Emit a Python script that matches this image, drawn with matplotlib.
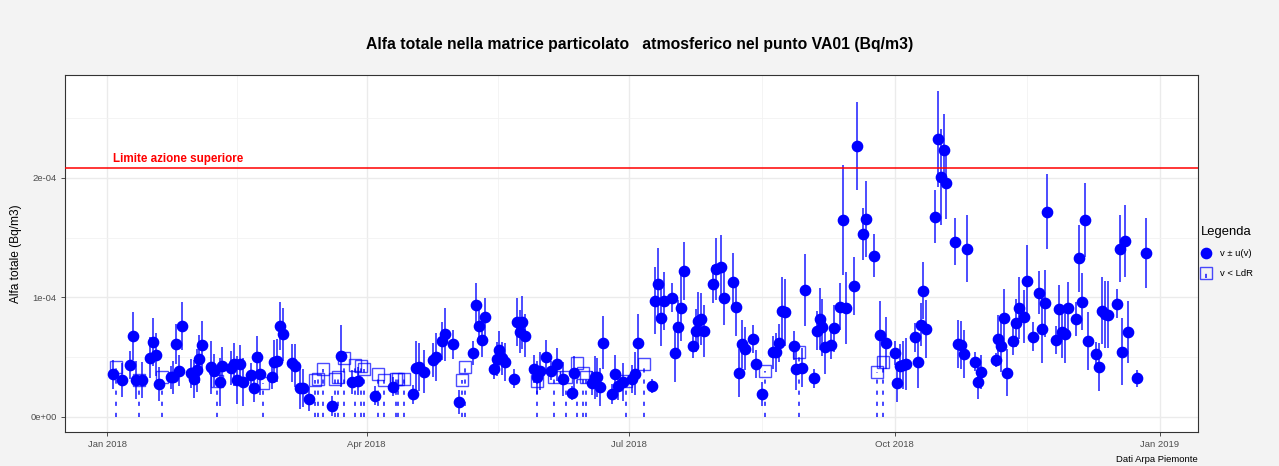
import numpy as np
import pandas as pd
import matplotlib
matplotlib.use('Agg')
import matplotlib.pyplot as plt
import matplotlib.dates as mdates
from matplotlib.ticker import FixedLocator, FuncFormatter

plt.rcParams['font.family'] = ['Liberation Sans', 'DejaVu Sans']
plt.rcParams['lines.scale_dashes'] = False

# misure sopra LdR: giorno dell'anno (0 = 1 gen 2018), valore e incertezza in 1e-6 Bq/m3
giorni = [2, 5, 8, 9, 10, 12, 15, 16, 17, 18, 22, 23, 24, 25, 26, 29, 30, 31, 32, 33,
          36, 37, 39, 40, 43, 44, 45, 46, 47, 50, 51, 52, 53, 57, 58, 59, 60, 61, 64, 65,
          67, 68, 70, 78, 81, 85, 87, 93, 99, 106, 107, 108, 110, 113, 114, 116, 117, 120, 122, 127,
          128, 129, 130, 131, 134, 135, 136, 137, 138, 141, 142, 143, 144, 145, 148, 149, 150, 152, 154, 156,
          158, 161, 162, 168, 169, 170, 171, 172, 175, 176, 177, 179, 182, 183, 184, 189, 190, 191, 192, 193,
          196, 197, 198, 199, 200, 203, 204, 205, 206, 207, 210, 211, 213, 214, 217, 218, 219, 220, 221, 224,
          225, 227, 231, 232, 233, 234, 235, 238, 239, 241, 242, 245, 246, 247, 248, 249, 251, 252, 254, 255,
          256, 259, 260, 262, 263, 266, 268, 270, 273, 274, 275, 276, 277, 280, 281, 282, 283, 284, 287, 288,
          289, 290, 291, 294, 295, 296, 297, 298, 301, 302, 303, 308, 309, 310, 311, 312, 314, 315, 316, 318,
          319, 321, 323, 324, 325, 326, 329, 330, 331, 332, 333, 336, 337, 338, 339, 340, 343, 344, 345, 346,
          347, 350, 351, 352, 353, 354, 357, 360]
valori = [35.7, 31, 43.5, 68, 31, 31, 49.6, 63, 52, 27.4, 33, 33, 61, 38.5, 76, 36.6, 31.5, 39, 48.5, 60,
          41.6, 38.7, 29, 42.7, 40.8, 44, 31, 44, 29, 35, 24.5, 50.5, 36, 33.2, 46.3, 47, 76.4, 69.2, 45, 42.7,
          24.5, 24.5, 14.8, 9.2, 51, 29.5, 30, 17.8, 25.4, 19, 41.3, 42, 38, 47.7, 50, 63.6, 69.2, 60.8, 12.8, 53.3,
          93.7, 76, 64, 83.7, 40, 48.3, 55.8, 49, 46, 32, 79.7, 71.4, 79, 67.8, 40, 33.2, 38.5, 50, 38.5, 44,
          31.8, 19.8, 37, 28.2, 33, 33, 24.8, 62.2, 19.2, 36, 26.2, 29.5, 31.8, 36, 62.2, 26, 97, 111, 83, 97,
          99.8, 53.3, 75.6, 91.5, 122, 59.7, 72, 80.6, 81.8, 72, 111.3, 123.6, 125.8, 99.3, 113, 91.8, 36.6, 61, 57, 65.3,
          44.4, 19, 54, 54, 61.7, 88.7, 87.6, 59.7, 40.2, 41.3, 106, 32.4, 72.2, 82, 75, 58.3, 60.3, 74, 92.3, 164.9,
          91, 109.6, 226.8, 152.9, 165.7, 135, 68.6, 61.7, 53.3, 28.2, 42.7, 43.5, 44.4, 66.7, 46.3, 77, 105.7, 73.6, 167.6, 232.4,
          200.6, 223.4, 195.6, 146.7, 60.8, 60.3, 52.5, 140.6, 46.3, 29, 37.4, 47.7, 65, 59.7, 83, 37.1, 63.8, 78.4, 91, 83.9,
          113.8, 67.2, 104, 73.2, 94.9, 171.8, 64.4, 90.2, 70.9, 69.2, 91, 82, 132.8, 96.5, 165, 63.6, 52.3, 41.6, 89, 86,
          85.4, 94.6, 140.6, 54.6, 147.3, 71, 32.4, 137]
incertezze = [12, 14, 12, 20, 16, 15, 17, 20, 18, 14, 10, 14, 17, 13, 20, 12, 16, 18, 20, 20,
              22, 14, 20, 16, 14, 18, 20, 16, 20, 10, 12, 17, 18, 10, 18, 18, 20, 22, 16, 18,
              18, 16, 10, 8, 26, 10, 12, 8, 8, 8, 22, 20, 18, 14, 20, 16, 22, 12, 10, 10,
              18, 14, 14, 16, 8, 14, 16, 14, 16, 8, 20, 18, 22, 18, 12, 14, 16, 14, 8, 14,
              14, 6, 14, 10, 18, 16, 16, 22, 8, 16, 12, 16, 12, 18, 24, 6, 28, 30, 24, 24,
              12, 24, 22, 28, 24, 10, 18, 24, 22, 22, 16, 26, 26, 22, 24, 24, 20, 20, 18, 12,
              12, 10, 14, 16, 16, 28, 28, 12, 18, 16, 30, 8, 16, 26, 24, 22, 12, 20, 20, 46,
              30, 24, 37, 22, 32, 18, 28, 22, 10, 16, 18, 20, 22, 12, 22, 18, 24, 24, 22, 40,
              40, 30, 30, 20, 20, 20, 20, 28, 8, 14, 14, 6, 20, 22, 24, 20, 12, 20, 26, 22,
              30, 12, 18, 28, 28, 31, 12, 20, 22, 24, 22, 14, 28, 24, 31, 24, 10, 20, 28, 28,
              28, 12, 28, 28, 30, 26, 7, 29]

# campioni sotto il limite di rilevabilita'
giorni_ldr = [3, 11, 19, 38, 54, 72, 73, 75, 79, 80, 82, 86, 88, 89, 94, 96, 100, 101, 103, 123,
              124, 149, 155, 159, 163, 165, 166, 180, 186, 228, 240, 267, 269]
valori_ldr = [42, 31, 33.7, 30, 28, 31, 31.5, 40, 31.5, 33, 49.6, 43.5, 42.7, 40, 35.7, 31, 31.5, 31.5, 31.5, 31,
              42, 30, 33, 33, 45, 36.6, 33, 30, 44, 38.7, 54.6, 37.4, 46.3]

limite_superiore = 2.08e-4

inizio = pd.Timestamp('2018-01-01')


def to_dates(days):
    return inizio + pd.to_timedelta(np.array(days), unit='D')


x = to_dates(giorni)
y = np.array(valori) * 1e-6
u = np.array(incertezze) * 1e-6
x_ldr = to_dates(giorni_ldr)
y_ldr = np.array(valori_ldr) * 1e-6

fig = plt.figure(figsize=(12.79, 4.66), dpi=100, facecolor='#f3f3f3')
ax = fig.add_axes([65 / 1279, 34 / 466, 1133 / 1279, 357 / 466])
ax.set_facecolor('white')

blu = '#0000ff'
eb = ax.errorbar(x, y, yerr=u, fmt='o', color=blu, ms=7.4, mec=blu, mfc=blu,
                 ecolor=(0, 0, 1, 0.7), elinewidth=1.4, capsize=0, zorder=4,
                 label='v \u00b1 u(v)')

eb_ldr = ax.errorbar(x_ldr, y_ldr, yerr=[y_ldr, np.zeros_like(y_ldr)], fmt='s',
                     ms=8.6, mfc='none', mec=(0, 0, 1, 0.7), mew=1.0,
                     ecolor=(0, 0, 1, 0.85), elinewidth=1.2, capsize=0, zorder=3,
                     label='v < LdR')
for lc in eb_ldr[2]:
    lc.set_linestyle((0, (3, 5)))

ax.axhline(limite_superiore, color='red', lw=1.1, zorder=5)
ax.text(to_dates([2])[0], limite_superiore + 2.5e-6, 'Limite azione superiore',
        color='red', fontsize=8.4, fontweight='bold', ha='left', va='bottom', zorder=6)

# assi
ax.set_xlim(to_dates([-14.6])[0], to_dates([378.2])[0])
ax.set_ylim(-12.6e-6, 286e-6)

major_x = pd.to_datetime(['2018-01-01', '2018-04-01', '2018-07-01', '2018-10-01', '2019-01-01'])
minor_x = to_dates([45, 135.5, 227, 319])
ax.xaxis.set_major_locator(FixedLocator(mdates.date2num(major_x)))
ax.xaxis.set_minor_locator(FixedLocator(mdates.date2num(minor_x)))
ax.xaxis.set_major_formatter(mdates.DateFormatter('%b %Y'))

ax.yaxis.set_major_locator(FixedLocator([0, 1e-4, 2e-4]))
ax.yaxis.set_minor_locator(FixedLocator([0.5e-4, 1.5e-4, 2.5e-4]))
ax.yaxis.set_major_formatter(FuncFormatter(lambda v, p: ['0e+00', '1e-04', '2e-04'][p] if p is not None else ''))

ax.grid(which='major', color='#ebebeb', lw=1.0, zorder=0)
ax.grid(which='minor', color='#f2f2f2', lw=0.6, zorder=0)
ax.set_axisbelow(True)

ax.tick_params(which='major', length=3, width=0.6, color='#333333', labelsize=6.8,
               labelcolor='#4d4d4d', pad=3)
ax.tick_params(which='minor', length=0)
for s in ax.spines.values():
    s.set_color('#333333')
    s.set_linewidth(0.8)

ax.set_ylabel('Alfa totale (Bq/m3)', fontsize=8.6, labelpad=6)

fig.text(0.5, 1 - 45 / 466, 'Alfa totale nella matrice particolato   atmosferico nel punto VA01 (Bq/m3)',
         ha='center', va='center', fontsize=11.3, fontweight='bold')
fig.text(1198 / 1279, 1 - 459 / 466, 'Dati Arpa Piemonte', ha='right', va='center', fontsize=6.8)

leg = fig.legend(handles=[eb, eb_ldr], loc='upper left', bbox_to_anchor=(1197 / 1279, 1 - 222 / 466),
                 frameon=False, title='Legenda', fontsize=6.8, title_fontsize=9.4,
                 handlelength=1.2, handletextpad=0.8, labelspacing=1.2, borderaxespad=0)
leg._legend_box.align = 'left'

fig.savefig('out.png', dpi=100, facecolor=fig.get_facecolor())
